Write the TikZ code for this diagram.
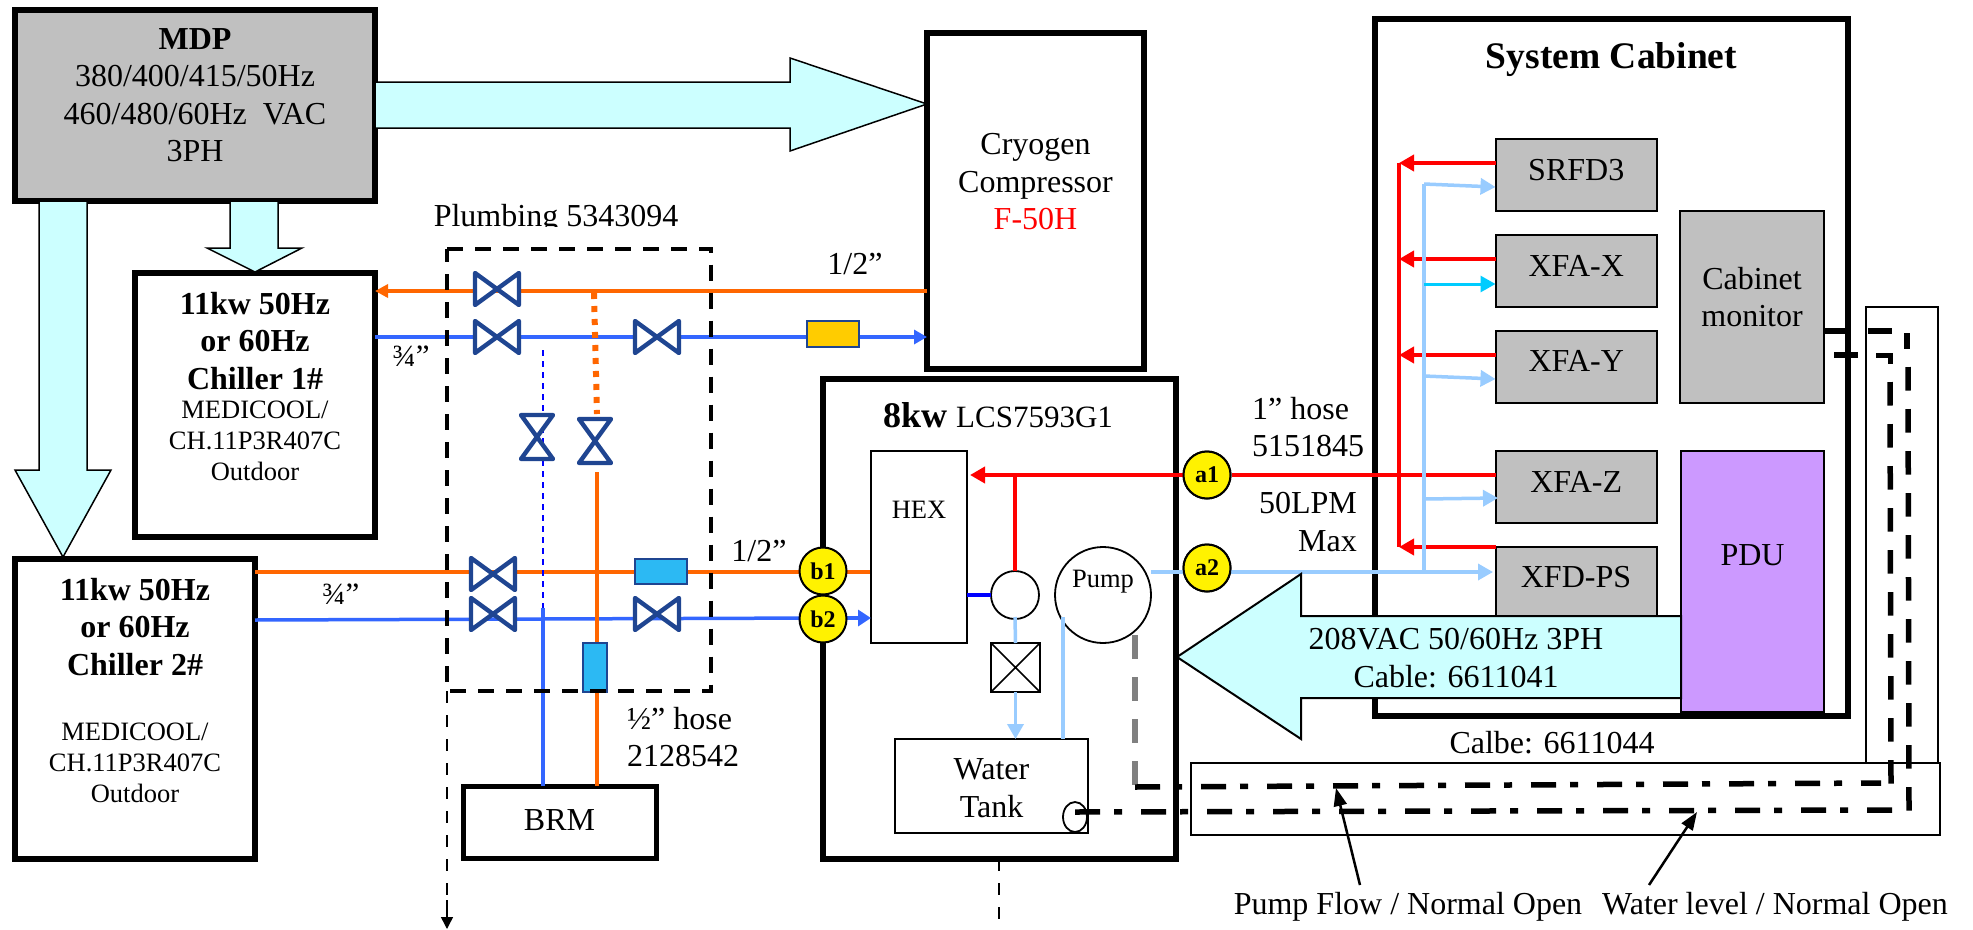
\documentclass[tikz,border=0pt]{standalone}
\usepackage{fontspec}
\setmainfont{Liberation Serif}
\usetikzlibrary{arrows.meta,shapes.geometric}
\definecolor{cyanfill}{HTML}{CCFFFF}
\definecolor{boxgray}{HTML}{C0C0C0}
\definecolor{pdufill}{HTML}{CC99FF}
\definecolor{orangeln}{HTML}{FF6600}
\definecolor{blueln}{HTML}{3366FF}
\definecolor{ltblue}{HTML}{99CCFF}
\definecolor{skyln}{HTML}{00CCFF}
\definecolor{valveclr}{HTML}{1F4591}
\definecolor{yelbox}{HTML}{FFCC00}
\definecolor{cybox}{HTML}{2CB9F3}
\tikzset{
  x=1pt,y=-1pt,
  box/.style={draw=black,line width=#1,inner sep=0pt,outer sep=0pt,anchor=north west},
  box/.default=2pt,
  grayb/.style={box=2pt,fill=boxgray},
  lbl/.style={font=\fontsize{32}{37.5}\selectfont,align=center,inner sep=0pt},
  lblb/.style={font=\fontsize{32}{37.5}\bfseries\selectfont,align=center,inner sep=0pt},
  lbls/.style={font=\fontsize{26.5}{31}\selectfont,align=center,inner sep=0pt},
  bigarrow/.style={draw=black,line width=1.5pt,fill=cyanfill,line join=miter},
  oline/.style={draw=orangeln,line width=3.5pt},
  bline/.style={draw=blueln,line width=3.5pt},
  rline/.style={draw=red,line width=4.5pt},
  lline/.style={draw=ltblue,line width=3.5pt},
  ah/.style={-{Triangle[length=15pt,width=16pt]}},
  valve/.style={draw=valveclr,line width=4.4pt,fill=white,line join=round},
  port/.style={circle,draw=black,line width=2pt,fill=yellow,inner sep=0pt,minimum size=47pt,font=\fontsize{24}{28}\bfseries\selectfont},
  dashdot/.style={draw=black,line width=5.5pt,dash pattern=on 25pt off 14pt on 8pt off 19pt},
  dashv/.style={draw=black,line width=5.5pt,dash pattern=on 23.5pt off 18.5pt},
}
\newcommand{\hvalve}[3]{\coordinate (#1) at (#2,#3);\draw[valve] (#2-22,#3-16) -- (#2+22,#3+16) -- (#2+22,#3-16) -- (#2-22,#3+16) -- cycle;}
\newcommand{\vvalve}[3]{\coordinate (#1) at (#2,#3);\draw[valve] (#2-16,#3-22) -- (#2+16,#3+22) -- (#2-16,#3+22) -- (#2+16,#3-22) -- cycle;}
\begin{document}
\begin{tikzpicture}
\useasboundingbox[fill=white] (0,0) rectangle (1973,929);

% --- main boxes
\node[box=5.5pt,fill=boxgray,minimum width=360pt,minimum height=191pt,
  label={[lbl,yshift=10.5pt]center:{\textbf{MDP}\\380/400/415/50Hz\\460/480/60Hz\ \ VAC\\3PH}}] (mdp) at (15,10) {};
\node[box=5.5pt,minimum width=217pt,minimum height=336pt,
  label={[lbl,yshift=19pt]center:{Cryogen\\Compressor\\\textcolor{red}{F-50H}}}] (cryo) at (927,33) {};
\node[box=5.5pt,minimum width=240pt,minimum height=264pt] (ch1) at (135,273) {};
\node[lblb] (ch1t) at (255,341) {11kw 50Hz\\or 60Hz\\Chiller 1\#};
\node[lbls] (ch1s) at (255,441) {MEDICOOL/\\CH.11P3R407C\\Outdoor};
\node[box=5.5pt,minimum width=240pt,minimum height=300pt] (ch2) at (15,559) {};
\node[lblb] (ch2t) at (135,627) {11kw 50Hz\\or 60Hz\\Chiller 2\#};
\node[lbls] (ch2s) at (135,763) {MEDICOOL/\\CH.11P3R407C\\Outdoor};
\node[box=5pt,minimum width=193pt,minimum height=72pt,label={[lbl,yshift=2pt]center:BRM}] (brm) at (463,786) {};

% --- big arrows
\draw[bigarrow] (mdp.east |- 0,82) -- (790,82) -- (790,58) -- (cryo.west |- 0,104) -- (790,151) -- (790,128) -- (mdp.east |- 0,128) -- cycle;
\draw[bigarrow] (39,201) -- (39,470) -- (15,470) -- (63,557) -- (111,470) -- (87,470) -- (87,201) -- cycle;
\draw[bigarrow] (230,201) -- (230,248) -- (207,248) -- (255,272) -- (302,248) -- (278,248) -- (278,201) -- cycle;

% --- plumbing lines
\coordinate (ot) at (0,291);
\coordinate (bt) at (0,337);
\draw[oline,-{Triangle[length=13pt,width=13pt]}] (cryo.west |- ot) -- (ch1.east |- ot);
\draw[bline,-{Triangle[length=13pt,width=14pt]}] (ch1.east |- bt) -- (cryo.west |- bt);
\draw[oline,line width=4pt] (ch2.east |- 0,571.5) -- (871,571.5);
\draw[bline] (ch2.east |- 0,620) -- (823,618);
\draw[oline] (597,472) -- (brm.north -| 597,0);
\draw[bline] (543,608) -- (brm.north -| 543,0);
\draw[blue,line width=2.2pt,dash pattern=on 6pt off 5pt] (543,350) -- (543,608);
\draw[orangeln,line width=6pt,dash pattern=on 6pt off 7pt] (594,293) -- (597,414);
\hvalve{v1}{497}{289}
\hvalve{v2}{497}{337}
\hvalve{v3}{657}{337}
\hvalve{v4}{493}{574}
\hvalve{v5}{493}{614}
\hvalve{v6}{657}{614}
\vvalve{v7}{537}{437}
\vvalve{v8}{595}{441}
\node[box=2.5pt,draw=valveclr,fill=yelbox,minimum width=52pt,minimum height=26pt] (yb) at (807,321) {};
\node[box=2pt,draw=valveclr,fill=cybox,minimum width=52pt,minimum height=25pt] (cb1) at (635,559) {};
\node[box=2pt,draw=valveclr,fill=cybox,minimum width=24pt,minimum height=49pt] (cb2) at (583,643) {};
\draw[black,line width=4pt,dash pattern=on 16pt off 12pt] (447,248.5) -- (711,248.5) -- (711,691) -- (447,691) -- cycle;
\draw[black,line width=2pt,dash pattern=on 12pt off 12pt] (447,691) -- (447,912);
\draw[black,line width=1.5pt,-{Triangle[length=12pt,width=12pt]}] (447,900) -- (447,929);
\begin{scope}
\clip (420,190) rectangle (720,226);
\node[lbl] (plumb) at (556,218.5) {Plumbing 5343094};
\end{scope}
\node[lbl] (h1) at (855,264) {1/2”};
\node[lbl,font=\fontsize{31}{36}\selectfont] (q1) at (411,356) {¾”};
\node[lbl,font=\fontsize{31}{36}\selectfont] (q2) at (341,594) {¾”};
\node[lbl] (h2) at (759,551) {1/2”};
\node[lbl,anchor=north west,align=left] (hose) at (627,707) {½” hose\\2128542};

% --- system cabinet
\node[box=5.5pt,minimum width=473pt,minimum height=697pt,
  label={[lblb,font=\fontsize{37.5}{40}\bfseries\selectfont,yshift=308pt]center:System Cabinet}] (cab) at (1375,19) {};
\node[grayb,minimum width=161.5pt,minimum height=72pt,label={[lbl,yshift=5pt]center:SRFD3}] (srfd) at (1495.5,139) {};
\node[grayb,minimum width=161.5pt,minimum height=72pt,label={[lbl,yshift=5pt]center:XFA-X}] (xfax) at (1495.5,235) {};
\node[grayb,minimum width=161.5pt,minimum height=72pt,label={[lbl,yshift=6pt]center:XFA-Y}] (xfay) at (1495.5,331) {};
\node[grayb,minimum width=161.5pt,minimum height=72pt,label={[lbl,yshift=5pt]center:XFA-Z}] (xfaz) at (1495.5,451) {};
\node[grayb,minimum width=161.5pt,minimum height=70pt] (xfd) at (1495.5,547) {};
\node[lbl] (xfdt) at (1576,577) {XFD-PS};
\node[grayb,minimum width=144pt,minimum height=192pt,label={[lbl,yshift=10pt]center:Cabinet\\monitor}] (mon) at (1680,211) {};

% --- 8kw box
\node[box=5.5pt,minimum width=353pt,minimum height=480pt] (lcs) at (823,379) {};
\node[lbl] (lcst) at (998,415) {\fontsize{36}{40}\bfseries\selectfont 8kw\ \fontsize{31}{37}\mdseries\selectfont LCS7593G1};
\node[box=1.8pt,minimum width=96pt,minimum height=192pt,label={[lbls,yshift=37pt]center:HEX}] (hex) at (871,451) {};
\node[box=1.8pt,fill=white,minimum width=193pt,minimum height=94pt,label={[lbl,yshift=-2pt]center:Water\\Tank}] (tank) at (895,739) {};
\node[draw=black,line width=1.8pt,circle,minimum size=48pt,inner sep=0pt,outer sep=0pt] (sc) at (1015,595) {};
\node[draw=black,line width=1.8pt,circle,minimum size=96pt,inner sep=0pt,outer sep=0pt,label={[lbls,yshift=13pt]center:Pump}] (pump) at (1103,595) {};
\node[box=1.8pt,minimum width=49pt,minimum height=49pt] (xb) at (991,643) {};
\draw[line width=1.5pt] (xb.north west) -- (xb.south east) (xb.north east) -- (xb.south west);
\draw[draw=blue,line width=4pt] (hex.east |- sc) -- (sc.west);
\draw[rline] (sc.north) -- (sc.north |- 0,475);
\draw[lline] (sc.south) ++(0,-2) -- (xb.north);
\draw[lline,ah] (xb.south) -- (xb.south |- tank.north);
\draw[lline] (1063,617) -- (tank.north -| 1063,0);
\draw[draw=blueln,line width=3.5pt,-{Triangle[length=13pt,width=16pt]}] (823,618) -- (hex.west |- 0,618);
\draw[draw=gray,line width=5.5pt,dash pattern=on 24pt off 18pt] (1135,635) -- (1135,785);
\node[draw=black,line width=1.8pt,ellipse,minimum width=24pt,minimum height=30pt,inner sep=0pt] (el) at (1075,817) {};

% --- cooling lines cabinet
\node[port] (a1) at (1207,475) {a1};
\node[port] (a2) at (1207,568) {a2};
\draw[rline,-{Triangle[length=15pt,width=16pt]},shorten >=3pt] (a1) -- (hex.east |- a1);
\draw[rline] (a1) -- (xfaz.west |- a1);
\draw[lline] (pump.east |- a2) ++(0,4) -- (1424,572);
\draw[lline,ah] (1424,572) -- (1493,572);
\draw[rline] (1399,163) -- (1399,547);
\foreach \n/\y in {srfd/163,xfax/259,xfay/355,xfd/547}
  \draw[rline,-{Triangle[length=15pt,width=16pt]}] (\n.west |- 0,\y) -- (1399,\y);
\draw[lline] (1424,184) -- (1424,572);
\draw[lline,ah] (1424,184) -- (srfd.west |- 0,187);
\draw[draw=skyln,line width=3pt,ah] (1424,284) -- (xfax.west |- 0,284);
\draw[lline,ah] (1424,376) -- (xfay.west |- 0,379);
\draw[lline,ah] (1424,499) -- (1498,498);
\node[port] at (a1) {a1};
\node[port] at (a2) {a2};
\node[port] (b1) at (823,571) {b1};
\node[port] (b2) at (823,619) {b2};

% --- 208 V arrow and PDU
\node[box=2pt,fill=pdufill,minimum width=143pt,minimum height=261pt,label={[lbl,yshift=26pt]center:PDU}] (pdu) at (1681,451) {};
\draw[bigarrow,line width=2pt] (pdu.west |- 0,616) -- (1301,616) -- (1301,574) -- (1177,657) -- (1301,739) -- (1301,698) -- (pdu.west |- 0,698) -- cycle;
\node[lbl] (v208) at (1456,658) {208VAC 50/60Hz 3PH\\Cable: 6611041};

\node[lbl,anchor=north west,align=left] (h3) at (1252,397) {1” hose};
\node[lbl,anchor=north west,align=left] (h4) at (1252,435) {5151845};
\node[lbl,align=right,anchor=east] (lpm) at (1357,522) {50LPM\\Max};

% --- cable trays
\node[lbl] (calbe) at (1552,743) {Calbe: 6611044};
\node[box=2pt,minimum width=72.5pt,minimum height=456pt] (trayv) at (1865.5,307) {};
\node[box=2pt,minimum width=749pt,minimum height=72pt] (trayh) at (1191,763) {};
\coordinate (pf) at (1135,787);
\coordinate (wl) at (1075,812);
\draw[dashdot] (pf) -- (1881,783);
\draw[dashdot] (wl) -- (1895,810);
\draw[dashv] (1890,382) -- (1891,785);
\draw[dashv] (1908,367) -- (1909,811);
\draw[black,line width=5.5pt] (mon.east |- 0,331) -- (1850,331);
\draw[black,line width=5.5pt] (1868,331) -- (1892,331);
\draw[black,line width=5.5pt] (1907,333) -- (1907,349);
\draw[black,line width=5.5pt] (1834,355) -- (1858,355);
\draw[black,line width=5pt] (1876,355) -- (1890,355) -- (1890,364);

% --- bottom
\draw[black,line width=2pt,dash pattern=on 12pt off 12pt] (lcs.south -| 999,0) -- (999,925);
\node[lbl] (pft) at (1408,907) {Pump Flow / Normal Open};
\node[lbl] (wlt) at (1775,907) {Water level / Normal Open};
\draw[black,line width=2.5pt,-{Triangle[length=18pt,width=13pt]}] (1360,885) -- (1336,788);
\draw[black,line width=2.5pt,-{Triangle[length=18pt,width=13pt]}] (1649,885) -- (1697,812);
\end{tikzpicture}
\end{document}
